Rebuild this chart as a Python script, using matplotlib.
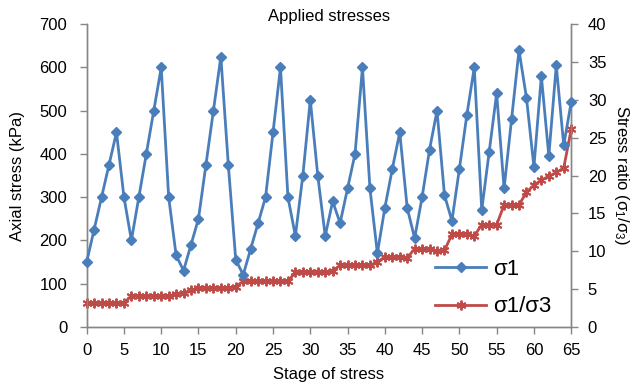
import matplotlib.pyplot as plt
import numpy as np

plt.rcParams['font.family'] = ['Liberation Sans', 'DejaVu Sans']
plt.rcParams['mathtext.fontset'] = 'custom'
plt.rcParams['mathtext.rm'] = 'Liberation Sans'
plt.rcParams['mathtext.it'] = 'Liberation Sans'

# --- data ---
stage = np.arange(0, 66)

sigma1 = [150, 225, 300, 375, 450, 300, 200, 300, 400, 500,
          600, 300, 165, 130, 190, 250, 375, 500, 625, 375,
          155, 120, 180, 240, 300, 450, 600, 300, 210, 350,
          525, 350, 210, 290, 240, 320, 400, 600, 320, 170,
          275, 365, 450, 275, 205, 300, 410, 500, 305, 245,
          365, 490, 600, 270, 405, 540, 320, 480, 640, 530,
          370, 580, 395, 605, 420, 520]

ratio = [3.1, 3.1, 3.1, 3.1, 3.1, 3.1, 4.1, 4.1, 4.1, 4.1,
         4.1, 4.1, 4.3, 4.5, 4.8, 5.1, 5.1, 5.1, 5.1, 5.1,
         5.3, 6.0, 6.0, 6.0, 6.0, 6.0, 6.0, 6.0, 7.2, 7.2,
         7.2, 7.2, 7.2, 7.4, 8.1, 8.1, 8.1, 8.1, 8.1, 8.6,
         9.2, 9.2, 9.2, 9.1, 10.3, 10.3, 10.3, 10.0, 10.1, 12.2,
         12.2, 12.2, 12.0, 13.5, 13.5, 13.5, 16.1, 16.1, 16.1, 17.8,
         18.7, 19.4, 19.9, 20.4, 21.0, 26.1]

xticks = np.arange(0, 66, 5)
yticks_left = np.arange(0, 701, 100)
yticks_right = np.arange(0, 41, 5)

blue = '#4A7EBB'
red = '#BE4B48'
spine_c = '#868686'

fig = plt.figure(figsize=(6.35, 3.9), dpi=100)
ax1 = fig.add_axes([0.1365, 0.1623, 0.763, 0.7754])
ax2 = ax1.twinx()

l1, = ax1.plot(stage, sigma1, c=blue, lw=2.0, marker='D', ms=5,
               mfc=blue, mec=blue, label='σ1', zorder=5, clip_on=False)
l2, = ax2.plot(stage, ratio, c=red, lw=2.0, marker=(6, 2, 0), ms=7,
               mew=1.4, mec=red, label='σ1/σ3', zorder=4, clip_on=False)

ax1.set_zorder(ax2.get_zorder() + 1)
ax1.patch.set_visible(False)

ax1.set_xlim(0, 65)
ax1.set_ylim(0, 700)
ax2.set_ylim(0, 40)
ax1.set_xticks(xticks)
ax1.set_yticks(yticks_left)
ax2.set_yticks(yticks_right)

for ax in [ax1, ax2]:
    ax.spines['top'].set_visible(False)
    for s in ['left', 'right', 'bottom']:
        ax.spines[s].set_color(spine_c)
        ax.spines[s].set_linewidth(1.0)
    ax.tick_params(colors=spine_c, labelcolor='black', labelsize=12,
                   length=5, width=1.0, direction='out')
ax1.tick_params(axis='x', pad=7)
ax1.tick_params(axis='y', pad=9)
ax2.tick_params(axis='y', pad=7)

ax1.set_xlabel('Stage of stress', fontsize=12, labelpad=6)
ax1.set_ylabel('Axial stress (kPa)', fontsize=12, labelpad=10)
ax2.set_ylabel('Stress ratio (σ$_1$/σ$_3$)', fontsize=12, rotation=270,
               labelpad=18)
ax1.set_title('Applied stresses', fontsize=12, pad=0)

ax1.legend(handles=[l1, l2], loc='lower right', frameon=False, fontsize=16,
           handlelength=2.3, handletextpad=0.3, labelspacing=0.75,
           bbox_to_anchor=(1.0, -0.035))

fig.savefig('out.png', dpi=100)
